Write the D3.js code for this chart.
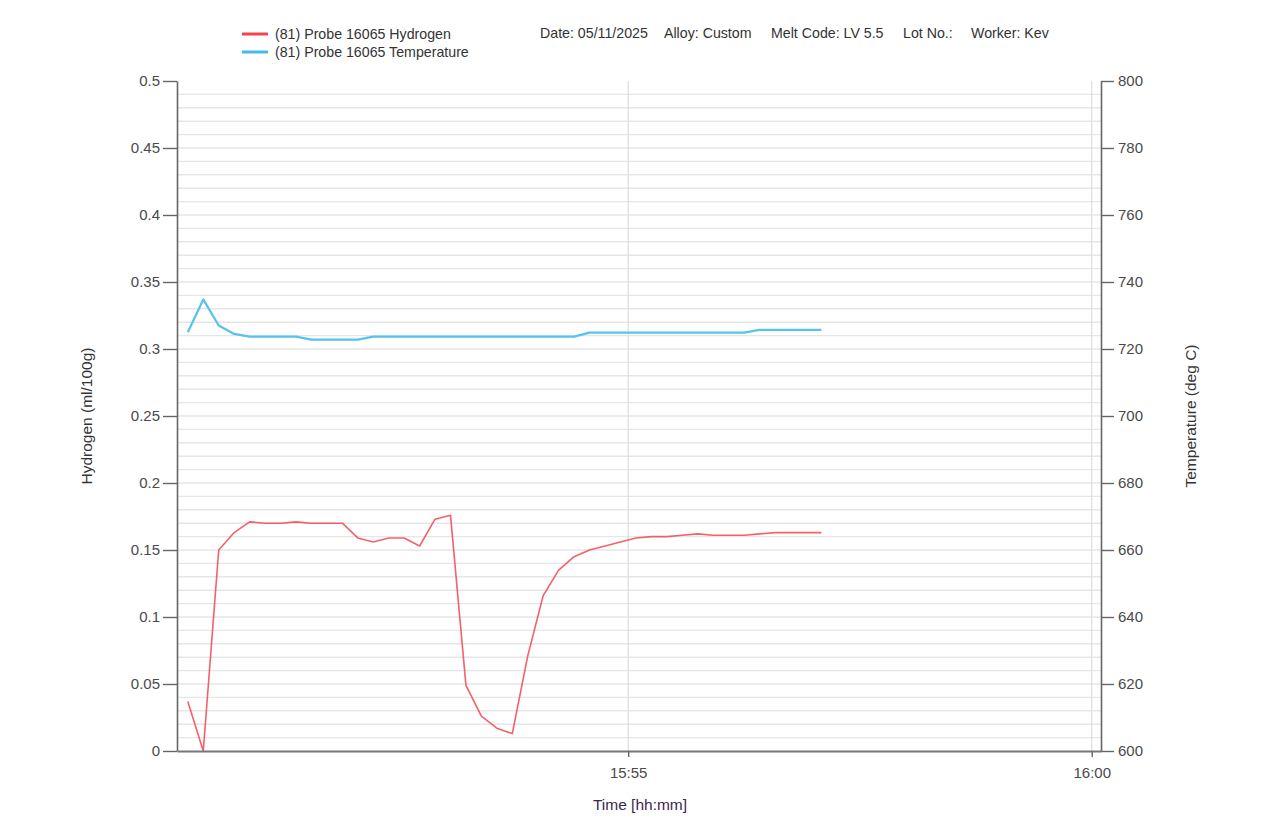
<!DOCTYPE html>
<html>
<head>
<meta charset="utf-8">
<script src="https://cdn.jsdelivr.net/npm/d3@7"></script>
<style>
  html, body { margin: 0; padding: 0; background: #fff; }
  svg { display: block; font-family: "Liberation Sans", Arial, sans-serif; }
</style>
</head>
<body>
<svg id="chart" width="1280" height="822"></svg>
<script>
// ---------- DATA ----------
const times = [
  "15:50:15","15:50:25","15:50:35","15:50:45","15:50:55","15:51:05","15:51:15","15:51:25",
  "15:51:35","15:51:45","15:51:55","15:52:05","15:52:15","15:52:25","15:52:35","15:52:45",
  "15:52:55","15:53:05","15:53:15","15:53:25","15:53:35","15:53:45","15:53:55","15:54:05",
  "15:54:15","15:54:25","15:54:35","15:54:45","15:54:55","15:55:05","15:55:15","15:55:25",
  "15:55:35","15:55:45","15:55:55","15:56:05","15:56:15","15:56:25","15:56:35","15:56:45",
  "15:56:55","15:57:05"
];
const hydrogen = [
  0.037, 0.000, 0.150, 0.163, 0.171, 0.170, 0.170, 0.171,
  0.170, 0.170, 0.170, 0.159, 0.156, 0.159, 0.159, 0.153,
  0.173, 0.176, 0.049, 0.026, 0.017, 0.013, 0.071, 0.116,
  0.135, 0.145, 0.150, 0.153, 0.156, 0.159, 0.160, 0.160,
  0.161, 0.162, 0.161, 0.161, 0.161, 0.162, 0.163, 0.163,
  0.163, 0.163
];
const temperature = [
  725.0, 734.8, 727.0, 724.5, 723.7, 723.7, 723.7, 723.7,
  722.8, 722.8, 722.8, 722.8, 723.7, 723.7, 723.7, 723.7,
  723.7, 723.7, 723.7, 723.7, 723.7, 723.7, 723.7, 723.7,
  723.7, 723.7, 724.9, 724.9, 724.9, 724.9, 724.9, 724.9,
  724.9, 724.9, 724.9, 724.9, 724.9, 725.7, 725.7, 725.7,
  725.7, 725.7
];
const hydrogenTicks = [0, 0.05, 0.1, 0.15, 0.2, 0.25, 0.3, 0.35, 0.4, 0.45, 0.5];
const temperatureTicks = [600, 620, 640, 660, 680, 700, 720, 740, 760, 780, 800];
const timeTicks = ["15:55:00", "16:00:00"];
const timeDomain = ["15:50:08", "16:00:06"];
const seriesNames = ["(81) Probe 16065 Hydrogen", "(81) Probe 16065 Temperature"];
const headerLabels = ["Date: 05/11/2025", "Alloy: Custom", "Melt Code: LV 5.5", "Lot No.:", "Worker: Kev"];
const axisTitles = { x: "Time [hh:mm]", left: "Hydrogen (ml/100g)", right: "Temperature (deg C)" };

// ---------- LAYOUT ----------
const W = 1280, H = 822;
const plot = { left: 177, right: 1101, top: 81, bottom: 751 };
const colH = "#f0474e", colT = "#55c3ec";

const parse = d3.timeParse("%H:%M:%S");
const svg = d3.select("#chart");
svg.append("rect").attr("width", W).attr("height", H).attr("fill", "#fff");

const x = d3.scaleTime().domain(timeDomain.map(parse)).range([plot.left, plot.right]);
const yH = d3.scaleLinear().domain([0, 0.5]).range([plot.bottom, plot.top]);
const yT = d3.scaleLinear().domain([600, 800]).range([plot.bottom, plot.top]);

// grid: horizontal minor lines every 0.01
const gridVals = d3.range(1, 50).map(i => i / 100);
svg.append("g").selectAll("line").data(gridVals).join("line")
  .attr("x1", plot.left).attr("x2", plot.right)
  .attr("y1", d => yH(d)).attr("y2", d => yH(d))
  .attr("stroke", "#e6e6e6").attr("stroke-width", 1.4);

// vertical grid lines at time ticks
svg.append("g").selectAll("line").data(timeTicks.map(parse)).join("line")
  .attr("x1", d => x(d)).attr("x2", d => x(d))
  .attr("y1", plot.top).attr("y2", plot.bottom)
  .attr("stroke", "#dddddd").attr("stroke-width", 1.2);

// lines
const pts = times.map((t, i) => ({ t: parse(t), h: hydrogen[i], T: temperature[i] }));
svg.append("path").datum(pts)
  .attr("fill", "none").attr("stroke", colT).attr("stroke-width", 2.2)
  .attr("stroke-linejoin", "round")
  .attr("d", d3.line().x(d => x(d.t)).y(d => yT(d.T)));
svg.append("path").datum(pts)
  .attr("fill", "none").attr("stroke", colH).attr("stroke-width", 1.6).attr("opacity", 0.85)
  .attr("stroke-linejoin", "round")
  .attr("d", d3.line().x(d => x(d.t)).y(d => yH(d.h)));

// axes
const axisColor = "#666", tickText = "#4a4a4a";
const fmtH = d => String(+d.toFixed(2));
const gL = svg.append("g").attr("transform", `translate(${plot.left},0)`)
  .call(d3.axisLeft(yH).tickValues(hydrogenTicks).tickFormat(fmtH).tickSize(14).tickSizeOuter(0).tickPadding(3));
const gR = svg.append("g").attr("transform", `translate(${plot.right},0)`)
  .call(d3.axisRight(yT).tickValues(temperatureTicks).tickSize(13).tickSizeOuter(0).tickPadding(4));
const gB = svg.append("g").attr("transform", `translate(0,${plot.bottom})`)
  .call(d3.axisBottom(x).tickValues(timeTicks.map(parse)).tickFormat(d3.timeFormat("%H:%M")).tickSize(6).tickSizeOuter(0).tickPadding(10));

[gL, gR, gB].forEach(g => {
  g.select(".domain").attr("stroke", axisColor).attr("stroke-width", 1.6);
  g.selectAll(".tick line").attr("stroke", axisColor).attr("stroke-width", 1.4);
  g.selectAll(".tick text").attr("fill", tickText).attr("font-size", 15)
    .attr("font-family", "'Liberation Sans', Arial, sans-serif");
});
gB.select(".domain").attr("stroke", "#777").attr("stroke-width", 2.2);

// axis titles
svg.append("text").attr("x", 640).attr("y", 810).attr("text-anchor", "middle")
  .attr("font-size", 15.5).attr("fill", "#3d2650").text(axisTitles.x);
svg.append("text").attr("transform", "translate(92,416) rotate(-90)").attr("text-anchor", "middle")
  .attr("font-size", 15.5).attr("fill", "#333").text(axisTitles.left);
svg.append("text").attr("transform", "translate(1196,416) rotate(-90)").attr("text-anchor", "middle")
  .attr("font-size", 15.5).attr("fill", "#333").text(axisTitles.right);

// legend
const legendColors = [colH, "#45b8ec"];
const leg = svg.append("g");
seriesNames.forEach((name, i) => {
  const y = 34 + i * 18;
  leg.append("line").attr("x1", 242).attr("x2", 268).attr("y1", y).attr("y2", y)
    .attr("stroke", legendColors[i]).attr("stroke-width", 3);
  leg.append("text").attr("x", 275).attr("y", y + 5).attr("font-size", 14.2).attr("fill", "#333").text(name);
});

// header info
const headerX = [540, 664, 771, 903, 971];
svg.append("g").selectAll("text").data(headerLabels).join("text")
  .attr("x", (d, i) => headerX[i]).attr("y", 38).attr("font-size", 14.2).attr("fill", "#333").text(d => d);
</script>
</body>
</html>
